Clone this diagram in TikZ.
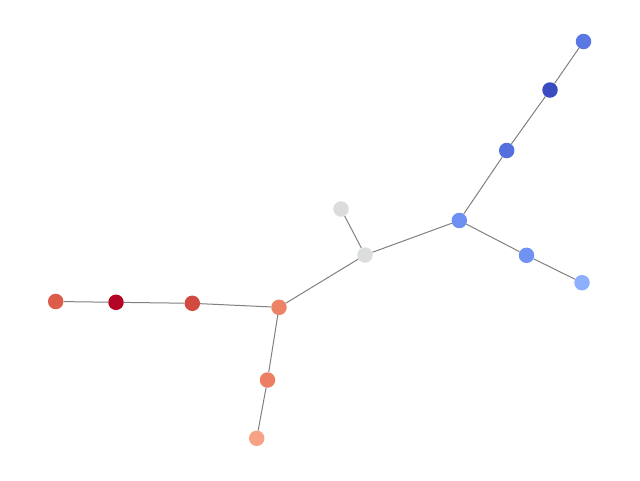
\documentclass[tikz,border=0pt]{standalone}
\definecolor{ca}{HTML}{5A78E4}
\definecolor{cb}{HTML}{3B4CC0}
\definecolor{cc}{HTML}{5470DE}
\definecolor{cd}{HTML}{6E90F2}
\definecolor{ce}{HTML}{7093F3}
\definecolor{cf}{HTML}{8DB0FE}
\definecolor{cg}{HTML}{DDDCDC}
\definecolor{ch}{HTML}{DCDDDD}
\definecolor{ci}{HTML}{ED8366}
\definecolor{cj}{HTML}{EC7F63}
\definecolor{ck}{HTML}{F6A385}
\definecolor{cl}{HTML}{D24B40}
\definecolor{cm}{HTML}{B40426}
\definecolor{cn}{HTML}{DC5D4A}
\tikzset{
  vtx/.style={circle, inner sep=0pt, minimum size=15.5pt, draw=none},
  edge/.style={draw=gray, line width=1pt}
}
\begin{document}
\begin{tikzpicture}[x=1pt,y=-1pt]
\useasboundingbox (0,0) rectangle (640,480);
\node[vtx, fill=ca] (a) at (583.5,41.5) {};
\node[vtx, fill=cb] (b) at (550,90) {};
\node[vtx, fill=cc] (c) at (506.7,150.5) {};
\node[vtx, fill=cd] (d) at (459.3,220.5) {};
\node[vtx, fill=ce] (e) at (526.5,255.3) {};
\node[vtx, fill=cf] (f) at (582,282.7) {};
\node[vtx, fill=cg] (g) at (341,209) {};
\node[vtx, fill=ch] (h) at (365,255) {};
\node[vtx, fill=ci] (i) at (279,307.3) {};
\node[vtx, fill=cj] (j) at (267.5,380) {};
\node[vtx, fill=ck] (k) at (256.7,438.3) {};
\node[vtx, fill=cl] (l) at (192.3,303.3) {};
\node[vtx, fill=cm] (m) at (116,302.3) {};
\node[vtx, fill=cn] (n) at (55.7,301.5) {};
\draw[edge] (a) -- (b) (b) -- (c) (c) -- (d) (d) -- (e) (e) -- (f)
  (d) -- (h) (g) -- (h) (h) -- (i) (i) -- (j) (j) -- (k)
  (i) -- (l) (l) -- (m) (m) -- (n);
\end{tikzpicture}
\end{document}
